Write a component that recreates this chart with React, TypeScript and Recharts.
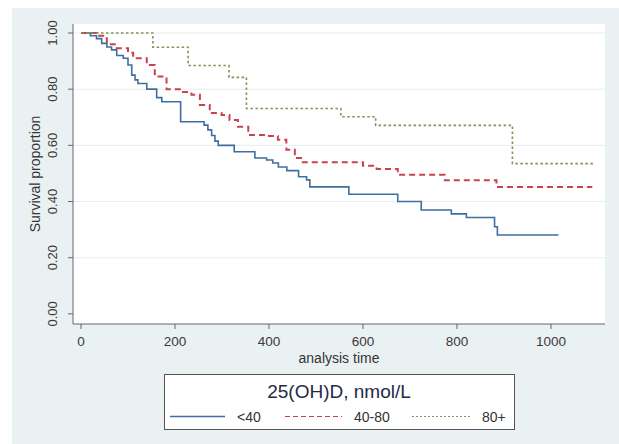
import { CartesianGrid, Line, LineChart, ReferenceLine, XAxis, YAxis } from 'recharts';

const FONT = '"Liberation Sans", Arial, sans-serif';

const xTicks = [0, 200, 400, 600, 800, 1000];
const yTicks = [0, 0.2, 0.4, 0.6, 0.8, 1];
const gridValues = [0.2, 0.4, 0.6, 0.8, 1];

// <40 group
const lt40Time = [0, 20, 33, 44, 55, 65, 76, 90, 100, 108, 115, 121, 140, 161, 172, 212, 262, 270, 278, 285, 292, 326, 370, 395, 408, 420, 438, 463, 480, 487, 570, 674, 724, 788, 820, 880, 886, 1016];
const lt40Surv = [1, 0.99, 0.98, 0.963, 0.95, 0.94, 0.92, 0.91, 0.886, 0.85, 0.833, 0.82, 0.8, 0.77, 0.755, 0.684, 0.672, 0.655, 0.635, 0.615, 0.6, 0.577, 0.555, 0.548, 0.537, 0.523, 0.51, 0.488, 0.477, 0.452, 0.426, 0.4, 0.37, 0.356, 0.343, 0.31, 0.281, 0.281];

// 40-80 group
const mid4080Time = [0, 34, 55, 76, 100, 111, 140, 157, 182, 214, 235, 253, 274, 299, 316, 334, 356, 395, 419, 437, 455, 472, 600, 629, 674, 774, 884, 1088];
const mid4080Surv = [1, 0.99, 0.96, 0.946, 0.93, 0.91, 0.886, 0.845, 0.8, 0.79, 0.78, 0.744, 0.715, 0.708, 0.69, 0.666, 0.637, 0.633, 0.62, 0.584, 0.555, 0.54, 0.527, 0.516, 0.495, 0.476, 0.452, 0.452];

// 80+ group
const hi80Time = [0, 153, 228, 315, 352, 553, 627, 918, 1093];
const hi80Surv = [1, 0.949, 0.884, 0.842, 0.731, 0.702, 0.671, 0.535, 0.535];

const groupNames = ['<40', '40-80', '80+'];
const groupColors = ['#3f6fa0', '#c8434f', '#7e9456'];
const groupDash = ['', '6 4', '2.5 2.5'];
const groupWidth = [1.6, 2, 1.6];
const legendTitle = '25(OH)D, nmol/L';

function toRows(time: number[], surv: number[]) {
  return time.map((t, i) => ({ t, s: surv[i] }));
}

const series = [toRows(lt40Time, lt40Surv), toRows(mid4080Time, mid4080Surv), toRows(hi80Time, hi80Surv)];

function YTick({ x, y, payload }: any) {
  const bx = x - 9;
  return (
    <text
      x={bx}
      y={y}
      transform={`rotate(-90, ${bx}, ${y})`}
      textAnchor="middle"
      fontSize={13}
      fontFamily={FONT}
      fill="#3a3a3a"
    >
      {Number(payload.value).toFixed(2)}
    </text>
  );
}

function LegendBox() {
  const lineX = [6, 121, 248];
  const lineLen = [55, 57, 58];
  return (
    <svg style={{ position: 'absolute', left: 164, top: 374 }} width={351} height={56}>
      <rect x={0.5} y={0.5} width={350} height={55} fill="#fff" stroke="#555" />
      <text x={175} y={24} textAnchor="middle" fontSize={19} fontFamily={FONT} fill="#1f2b45">
        {legendTitle}
      </text>
      {groupNames.map((name, i) => (
        <g key={name}>
          <line
            x1={lineX[i]}
            x2={lineX[i] + lineLen[i]}
            y1={42.5}
            y2={42.5}
            stroke={groupColors[i]}
            strokeWidth={i === 0 ? 1.3 : 1.2}
            strokeDasharray={i === 1 ? '5 3' : i === 2 ? '2 2' : undefined}
          />
          <text x={lineX[i] + lineLen[i] + 12} y={48} fontSize={14} fontFamily={FONT} fill="#333">
            {name}
          </text>
        </g>
      ))}
    </svg>
  );
}

export default function App() {
  return (
    <div style={{ position: 'absolute', left: 0, top: 0, width: 619, height: 444, background: '#fff' }}>
      <div style={{ position: 'absolute', left: 12, top: 8, width: 607, height: 436, background: '#eaf1f3' }} />
      <div style={{ position: 'absolute', left: 0, top: 0 }}>
        <LineChart width={619} height={444} margin={{ top: 24, right: 14, left: 12, bottom: 80 }}>
          <CartesianGrid fill="#ffffff" horizontal={false} vertical={false} />
          {gridValues.map((v) => (
            <ReferenceLine key={v} y={v} stroke="#e6eef1" strokeWidth={1} />
          ))}
          <XAxis
            dataKey="t"
            type="number"
            domain={[-17, 1115]}
            ticks={xTicks}
            allowDataOverflow
            height={40}
            tickSize={5}
            tickMargin={7}
            stroke="#666"
            tick={{ fontSize: 13.5, fill: '#3a3a3a', fontFamily: FONT }}
            label={{
              value: 'analysis time',
              position: 'insideBottom',
              offset: 1,
              style: { fontSize: 14, fill: '#333', fontFamily: FONT },
            }}
          />
          <YAxis
            type="number"
            domain={[-0.036, 1.032]}
            ticks={yTicks}
            allowDataOverflow
            width={61}
            tickSize={5}
            tickMargin={2}
            stroke="#666"
            tick={<YTick />}
            label={{
              value: 'Survival proportion',
              angle: -90,
              position: 'insideLeft',
              offset: 23,
              style: { textAnchor: 'middle', fontSize: 14, fill: '#333', fontFamily: FONT },
            }}
          />
          {series.map((rows, i) => (
            <Line
              key={groupNames[i]}
              data={rows}
              dataKey="s"
              name={groupNames[i]}
              type="stepAfter"
              stroke={groupColors[i]}
              strokeWidth={groupWidth[i]}
              strokeDasharray={groupDash[i] || undefined}
              dot={false}
              activeDot={false}
              isAnimationActive={false}
            />
          ))}
        </LineChart>
      </div>
      <LegendBox />
    </div>
  );
}
